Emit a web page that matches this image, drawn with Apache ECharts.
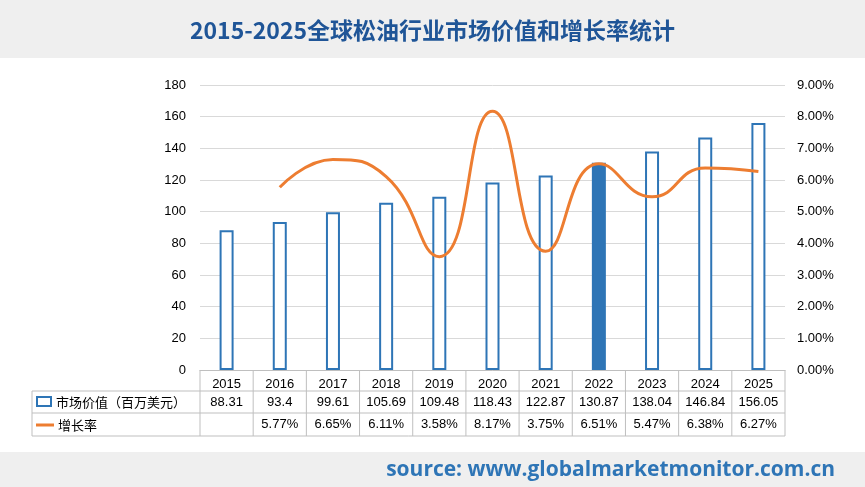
<!DOCTYPE html>
<html><head><meta charset="utf-8">
<script src="https://cdn.jsdelivr.net/npm/echarts@6/dist/echarts.min.js"></script>
<style>body{margin:0}#main{width:865px;height:487px}</style>
</head><body><div id="main"></div>
<script>
var years = ['2015','2016','2017','2018','2019','2020','2021','2022','2023','2024','2025'];
var values = [88.31,93.4,99.61,105.69,109.48,118.43,122.87,130.87,138.04,146.84,156.05];
var growth = [null,5.77,6.65,6.11,3.58,8.17,3.75,6.51,5.47,6.38,6.27];
var highlight = '2022';
var blue = '#2e75b6', orange = '#ed7d31';

var chart = echarts.init(document.getElementById('main'));
chart.setOption({
  animation: false,
  backgroundColor: '#fff',
  title: {
    text: '2015-2025全球松油行业市场价值和增长率统计', left: 'center', top: 14,
    textStyle: {color: '#1f5597', fontSize: 23, fontWeight: 'bold', fontFamily: 'Noto Sans CJK SC'}
  },
  grid: {left: 200, right: 80, top: 85, bottom: 117},
  xAxis: {
    type: 'category', data: years,
    axisTick: {show: false}, axisLine: {lineStyle: {color: '#bfbfbf'}},
    axisLabel: {color: '#000', fontSize: 13, margin: 8}
  },
  yAxis: [
    {type: 'value', min: 0, max: 180, interval: 20, axisLine: {show: false}, axisTick: {show: false},
     axisLabel: {color: '#000', fontSize: 13, margin: 14}, splitLine: {lineStyle: {color: '#d9d9d9'}}},
    {type: 'value', min: 0, max: 9, interval: 1, axisLine: {show: false}, axisTick: {show: false},
     axisLabel: {color: '#000', fontSize: 13, margin: 12, formatter: function (v) { return v.toFixed(2) + '%'; }},
     splitLine: {show: false}}
  ],
  series: [
    {type: 'bar', barWidth: 14,
     data: values.map(function (v, i) {
       return {value: v, itemStyle: {color: years[i] === highlight ? blue : '#fff', borderColor: blue, borderWidth: 2}};
     })},
    {type: 'line', yAxisIndex: 1, smooth: 0.5, showSymbol: false, data: growth,
     lineStyle: {color: orange, width: 3}, itemStyle: {color: orange}}
  ]
});

// data table under the axis
var x0 = 32, xL = 200, xR = 785, rows = [370, 391, 413, 436];
var g = [];
var colW = (xR - xL) / years.length;
function line(x1, y1, x2, y2) {
  g.push({type: 'line', shape: {x1: x1, y1: y1, x2: x2, y2: y2}, style: {stroke: '#bfbfbf', lineWidth: 1}});
}
line(x0, rows[1], xR, rows[1]); line(x0, rows[2], xR, rows[2]); line(x0, rows[3], xR, rows[3]);
line(x0, rows[1], x0, rows[3]);
for (var i = 0; i <= years.length; i++) line(xL + i * colW, rows[0], xL + i * colW, rows[3]);
years.forEach(function (y, i) {
  var cx = chart.convertToPixel({xAxisIndex: 0}, y);
  g.push({type: 'text', x: cx, y: (rows[1] + rows[2]) / 2, style: {text: String(values[i]), fill: '#000', font: '13px sans-serif', align: 'center', verticalAlign: 'middle'}});
  if (growth[i] != null)
    g.push({type: 'text', x: cx, y: (rows[2] + rows[3]) / 2, style: {text: growth[i].toFixed(2) + '%', fill: '#000', font: '13px sans-serif', align: 'center', verticalAlign: 'middle'}});
});
g.push({type: 'rect', shape: {x: 37, y: 397, width: 14, height: 9}, style: {fill: '#fff', stroke: blue, lineWidth: 2}});
g.push({type: 'text', x: 56, y: 402, style: {text: '市场价值（百万美元）', fill: '#000', font: '13px "Noto Sans CJK SC"', verticalAlign: 'middle'}});
g.push({type: 'line', shape: {x1: 36, y1: 425, x2: 54, y2: 425}, style: {stroke: orange, lineWidth: 3}});
g.push({type: 'text', x: 58, y: 425, style: {text: '增长率', fill: '#000', font: '13px "Noto Sans CJK SC"', verticalAlign: 'middle'}});
// bands
g.push({type: 'rect', z: -10, shape: {x: 0, y: 0, width: 865, height: 58}, style: {fill: '#efefef'}});
g.push({type: 'rect', z: -10, shape: {x: 0, y: 452, width: 865, height: 35}, style: {fill: '#efefef'}});
g.push({type: 'text', x: 835, y: 470, style: {text: 'source: www.globalmarketmonitor.com.cn', fill: blue, font: 'bold 21px "Open Sans"', align: 'right', verticalAlign: 'middle'}});
chart.setOption({graphic: g});
</script></body></html>
